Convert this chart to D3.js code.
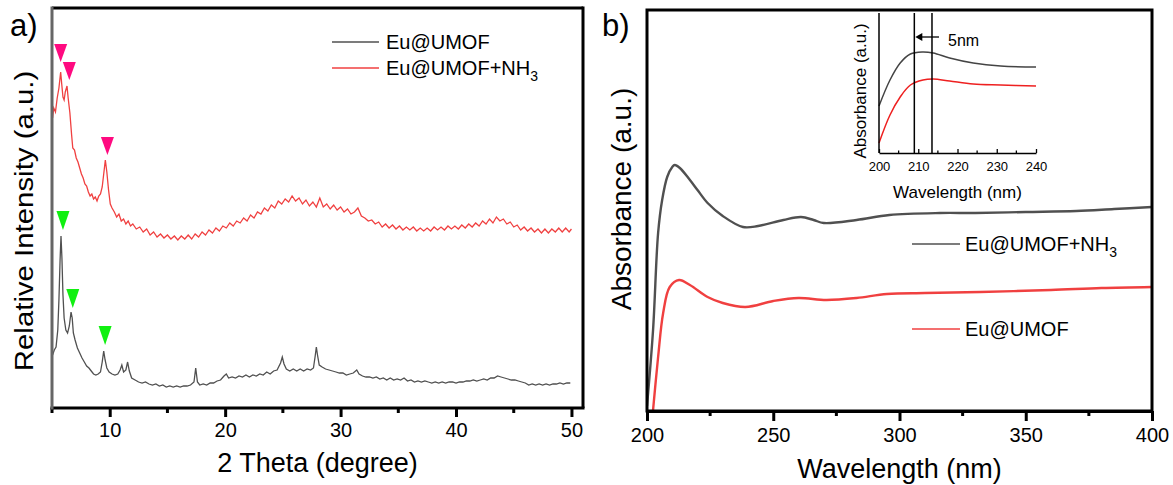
<!DOCTYPE html>
<html>
<head>
<meta charset="utf-8">
<script src="https://cdn.jsdelivr.net/npm/d3@7"></script>
<style>
  body { margin: 0; background: #fff; }
  svg { display: block; font-family: "Liberation Sans", Arial, sans-serif; }
</style>
</head>
<body>
<svg id="chart" width="1173" height="485"></svg>
<script>
// XRD patterns, [2theta, intensity a.u.]
const xrdNH3 = [
  [5.05, 291], [5.15, 301], [5.3, 297], [5.45, 311], [5.6, 321], [5.75, 337], [5.85, 324], [5.95, 312],
  [6.05, 309], [6.15, 317], [6.3, 323], [6.4, 311], [6.55, 296], [6.7, 274], [6.8, 261], [6.95, 259],
  [7.1, 251], [7.25, 247], [7.4, 241], [7.55, 235], [7.7, 231], [7.85, 225], [8.0, 223], [8.15, 217],
  [8.3, 213], [8.45, 215], [8.6, 210], [8.75, 212], [8.9, 208], [9.05, 213], [9.2, 215], [9.35, 222],
  [9.5, 237], [9.62, 249], [9.75, 237], [9.9, 219], [10.05, 205], [10.2, 201], [10.4, 197], [10.6, 192],
  [10.8, 195], [11.0, 188], [11.2, 190], [11.4, 185], [11.6, 188], [11.8, 183], [12.0, 185], [12.3, 180],
  [12.6, 182], [12.9, 177], [13.2, 180], [13.5, 174], [13.8, 177], [14.1, 172], [14.4, 175], [14.7, 171],
  [15.0, 174], [15.3, 170], [15.6, 173], [15.9, 169], [16.2, 173], [16.5, 170], [16.8, 174], [17.1, 170],
  [17.4, 175], [17.7, 172], [18.0, 177], [18.3, 174], [18.6, 179], [18.9, 176], [19.2, 181], [19.5, 178],
  [19.8, 183], [20.1, 181], [20.4, 186], [20.7, 183], [21.0, 188], [21.3, 186], [21.6, 191], [21.9, 188],
  [22.2, 194], [22.5, 191], [22.8, 197], [23.1, 195], [23.4, 201], [23.7, 198], [24.0, 204], [24.3, 201],
  [24.6, 208], [24.9, 205], [25.2, 210], [25.5, 207], [25.8, 213], [26.1, 208], [26.4, 211], [26.7, 205],
  [27.0, 209], [27.3, 203], [27.6, 207], [27.9, 202], [28.2, 211], [28.5, 202], [28.8, 205], [29.1, 200],
  [29.4, 204], [29.7, 199], [30.0, 202], [30.3, 197], [30.6, 200], [30.9, 195], [31.2, 197], [31.5, 201],
  [31.8, 193], [32.1, 191], [32.4, 188], [32.7, 189], [33.0, 185], [33.3, 187], [33.6, 182], [33.9, 185],
  [34.2, 181], [34.5, 184], [34.8, 180], [35.1, 183], [35.4, 179], [35.7, 182], [36.0, 179], [36.3, 182],
  [36.6, 178], [36.9, 181], [37.2, 178], [37.5, 181], [37.8, 178], [38.1, 182], [38.4, 179], [38.7, 182],
  [39.0, 179], [39.3, 183], [39.6, 180], [39.9, 183], [40.2, 180], [40.5, 184], [40.8, 181], [41.1, 185],
  [41.4, 182], [41.7, 186], [42.0, 183], [42.3, 188], [42.6, 185], [42.9, 190], [43.2, 186], [43.5, 192],
  [43.8, 188], [44.1, 190], [44.4, 185], [44.7, 187], [45.0, 182], [45.3, 184], [45.6, 179], [45.9, 182],
  [46.2, 178], [46.5, 181], [46.8, 177], [47.1, 180], [47.4, 176], [47.7, 180], [48.0, 176], [48.3, 180],
  [48.6, 177], [48.9, 181], [49.2, 177], [49.5, 181], [49.8, 177], [50.0, 180]
];

const xrdPlain = [
  [5.05, 54], [5.2, 59], [5.35, 62], [5.5, 79], [5.6, 109], [5.7, 149], [5.78, 173], [5.86, 151],
  [5.95, 114], [6.05, 91], [6.2, 79], [6.35, 76], [6.5, 83], [6.65, 97], [6.75, 91], [6.85, 76],
  [7.0, 69], [7.2, 61], [7.4, 56], [7.6, 51], [7.8, 47], [8.0, 43], [8.2, 41], [8.4, 38],
  [8.6, 35], [8.8, 34], [9.0, 35], [9.2, 37], [9.35, 47], [9.48, 58], [9.6, 49], [9.75, 41],
  [9.95, 37], [10.2, 35], [10.45, 34], [10.7, 35], [10.9, 39], [11.05, 44], [11.2, 37], [11.4, 39],
  [11.55, 47], [11.7, 38], [11.9, 31], [12.2, 29], [12.5, 27], [12.8, 26], [13.1, 27], [13.4, 25],
  [13.7, 24], [14.0, 25], [14.3, 23], [14.6, 24], [14.9, 22], [15.2, 23], [15.5, 22], [15.8, 23],
  [16.1, 22], [16.4, 23], [16.7, 23], [17.0, 24], [17.3, 27], [17.45, 41], [17.6, 27], [17.8, 24],
  [18.1, 25], [18.4, 24], [18.7, 26], [19.0, 26], [19.3, 28], [19.6, 29], [19.9, 33], [20.1, 35],
  [20.3, 31], [20.6, 32], [20.9, 31], [21.2, 33], [21.5, 32], [21.8, 34], [22.1, 32], [22.4, 34],
  [22.7, 33], [23.0, 35], [23.3, 34], [23.6, 37], [23.9, 35], [24.2, 38], [24.5, 39], [24.8, 46],
  [24.95, 52], [25.1, 45], [25.3, 40], [25.6, 38], [25.9, 40], [26.2, 38], [26.5, 40], [26.8, 38],
  [27.1, 40], [27.4, 39], [27.65, 41], [27.8, 53], [27.9, 62], [28.0, 54], [28.15, 44], [28.4, 42],
  [28.7, 40], [29.0, 39], [29.3, 38], [29.6, 37], [29.9, 36], [30.2, 36], [30.5, 34], [30.8, 35],
  [31.1, 36], [31.4, 39], [31.6, 35], [31.9, 33], [32.2, 32], [32.5, 32], [32.8, 31], [33.1, 32],
  [33.4, 30], [33.7, 31], [34.0, 29], [34.3, 31], [34.6, 29], [34.9, 30], [35.2, 29], [35.5, 31],
  [35.8, 28], [36.1, 29], [36.4, 27], [36.7, 28], [37.0, 27], [37.3, 28], [37.6, 27], [37.9, 26],
  [38.2, 27], [38.5, 26], [38.8, 27], [39.1, 26], [39.4, 27], [39.7, 27], [40.0, 26], [40.3, 27],
  [40.6, 27], [40.9, 28], [41.2, 28], [41.5, 29], [41.8, 28], [42.1, 29], [42.4, 30], [42.7, 29],
  [43.0, 31], [43.3, 31], [43.6, 33], [43.9, 32], [44.2, 31], [44.5, 30], [44.8, 29], [45.1, 29],
  [45.4, 28], [45.7, 27], [46.0, 26], [46.3, 24], [46.6, 25], [46.9, 24], [47.2, 25], [47.5, 24],
  [47.8, 25], [48.1, 24], [48.4, 25], [48.7, 25], [49.0, 26], [49.3, 25], [49.6, 26], [49.9, 26]
];

// peak markers, [2theta, tip intensity]
const peaksNH3 = [[5.75, 347], [6.5, 329], [9.8, 254]];
const peaksPlain = [[5.95, 179], [6.8, 101], [9.6, 64]];

// UV-vis absorbance, [wavelength nm, absorbance a.u.]
const uvNH3 = [
  [200, 5], [202.4, 81], [204.4, 178], [206, 211], [208, 234], [210, 244], [211, 246], [213, 243],
  [217, 231], [220, 221], [224, 208], [230, 195], [238, 184], [244, 185], [254, 191], [261, 194],
  [266, 191], [270, 188], [283, 191], [296, 196], [316, 198], [330, 198], [350, 199], [370, 200],
  [385, 202], [400, 204]
];
const uvPlain = [
  [202, -10], [204.4, 54], [206.4, 98], [209, 124], [212.7, 131], [217, 126], [224, 114], [230, 108],
  [239, 104], [250, 110], [260, 113], [271, 111], [283, 113], [295, 117], [310, 118], [332, 119],
  [360, 121], [380, 123], [400, 124]
];

// inset zoom 200-240 nm
const insetNH3 = [[200, 47], [202.8, 73], [205.4, 90], [208, 99], [211, 101], [213.8, 100], [218, 95], [224, 90], [231, 87], [240, 86]];
const insetPlain = [[200, 10], [202.8, 38], [205.4, 56], [208, 68], [211.2, 73], [213.8, 74], [218, 72], [224, 69], [231, 68], [240, 67]];
const insetMarks = [209, 213.5];

const xrdTicks = [10, 20, 30, 40, 50];
const xrdMinor = [5, 15, 25, 35, 45];
const uvTicks = [200, 250, 300, 350, 400];
const uvMinor = [225, 275, 325, 375];
const insetTicks = [200, 210, 220, 230, 240];
const insetMinor = [205, 215, 225, 235];

const GRAY = '#505050';
const RED = '#f04040';
const FONT = '"Liberation Sans", Arial, sans-serif';

const svg = d3.select('#chart');

// ---------- panel a ----------
const A = { left: 52, right: 583, top: 8, bottom: 408 };
const xA = d3.scaleLinear().domain([5, 51]).range([A.left, A.right]);
const yA = d3.scaleLinear().domain([0, 400]).range([409, 9]);

svg.append('clipPath').attr('id', 'clipA')
  .append('rect').attr('x', A.left).attr('y', A.top).attr('width', A.right - A.left).attr('height', A.bottom - A.top);

const lineA = d3.line().x(d => xA(d[0])).y(d => yA(d[1]));
const gA = svg.append('g');

gA.append('g').attr('clip-path', 'url(#clipA)')
  .selectAll('path')
  .data([[xrdPlain, GRAY], [xrdNH3, RED]])
  .join('path')
  .attr('d', d => lineA(d[0]))
  .attr('fill', 'none')
  .attr('stroke', d => d[1])
  .attr('stroke-width', 1.3);

// triangles pointing down, tip at the peak marker value
const tri = (d, w, h) => {
  const x = xA(d[0]), y = yA(d[1]);
  return `M${x - w / 2},${y - h}L${x + w / 2},${y - h}L${x},${y}Z`;
};
gA.selectAll('path.pk1').data(peaksNH3).join('path')
  .attr('class', 'pk1').attr('d', d => tri(d, 13, 18)).attr('fill', '#ff0a80');
gA.selectAll('path.pk2').data(peaksPlain).join('path')
  .attr('class', 'pk2').attr('d', d => tri(d, 13, 19)).attr('fill', '#11f011');

// frame
gA.append('line').attr('x1', A.left).attr('x2', A.right).attr('y1', A.top).attr('y2', A.top)
  .attr('stroke', '#000').attr('stroke-width', 3);
gA.append('line').attr('x1', A.right).attr('x2', A.right).attr('y1', A.top - 1.5).attr('y2', A.bottom)
  .attr('stroke', '#000').attr('stroke-width', 3);

const axA = gA.append('g').attr('transform', `translate(0,${A.bottom})`)
  .call(d3.axisBottom(xA).tickValues(xrdTicks).tickSize(9).tickPadding(6).tickSizeOuter(0));
axA.select('.domain').attr('stroke-width', 3).attr('d', `M${A.left - 1.5},0H${A.right + 1.5}`);
axA.selectAll('.tick line').attr('stroke-width', 3);
axA.selectAll('.tick text').attr('font-size', 20).attr('font-family', FONT);
gA.append('g').attr('transform', `translate(0,${A.bottom})`)
  .selectAll('line').data(xrdMinor).join('line')
  .attr('x1', d => xA(d)).attr('x2', d => xA(d)).attr('y1', 0).attr('y2', 5)
  .attr('stroke', '#000').attr('stroke-width', 3);

gA.append('line').attr('x1', A.left).attr('x2', A.left).attr('y1', A.top - 1.5).attr('y2', A.bottom + 1.5)
  .attr('stroke', '#666').attr('stroke-width', 3);

gA.append('text').attr('x', (A.left + A.right) / 2).attr('y', 472).attr('text-anchor', 'middle')
  .attr('font-size', 27).text('2 Theta (degree)');
gA.append('text').attr('transform', 'translate(33,221) rotate(-90) scale(1.13,1)')
  .attr('text-anchor', 'middle').attr('font-size', 26).text('Relative Intensity (a.u.)');
gA.append('text').attr('x', 10).attr('y', 36).attr('font-size', 31).text('a)');

// legend a
const legA = [['Eu@UMOF', GRAY, ''], ['Eu@UMOF+NH', RED, '3']];
const lgA = gA.selectAll('g.leg').data(legA).join('g').attr('class', 'leg')
  .attr('transform', (d, i) => `translate(332,${42 + i * 26})`);
lgA.append('line').attr('x1', 0).attr('x2', 47).attr('stroke', d => d[1]).attr('stroke-width', 1.5);
const tA = lgA.append('text').attr('x', 54).attr('y', 7).attr('font-size', 20);
tA.append('tspan').text(d => d[0]);
tA.append('tspan').attr('dy', 6).attr('font-size', 14).text(d => d[2]);

// ---------- panel b ----------
const B = { left: 647, right: 1152, top: 10, bottom: 411 };
const xB = d3.scaleLinear().domain([200, 400]).range([B.left, B.right]);
const yB = d3.scaleLinear().domain([0, 401]).range([411, 10]);

svg.append('clipPath').attr('id', 'clipB')
  .append('rect').attr('x', B.left).attr('y', B.top).attr('width', B.right - B.left).attr('height', B.bottom - B.top);

const lineB = d3.line().curve(d3.curveCatmullRom).x(d => xB(d[0])).y(d => yB(d[1]));
const gB = svg.append('g');
gB.append('g').attr('clip-path', 'url(#clipB)')
  .selectAll('path')
  .data([[uvNH3, GRAY], [uvPlain, RED]])
  .join('path')
  .attr('d', d => lineB(d[0]))
  .attr('fill', 'none')
  .attr('stroke', d => d[1])
  .attr('stroke-width', 2.4);

gB.append('rect').attr('x', B.left).attr('y', B.top).attr('width', B.right - B.left).attr('height', B.bottom - B.top)
  .attr('fill', 'none').attr('stroke', '#000').attr('stroke-width', 3);

const axB = gB.append('g').attr('transform', `translate(0,${B.bottom})`)
  .call(d3.axisBottom(xB).tickValues(uvTicks).tickSize(10).tickPadding(7).tickSizeOuter(0));
axB.select('.domain').attr('stroke-width', 3);
axB.selectAll('.tick line').attr('stroke-width', 3);
axB.selectAll('.tick text').attr('font-size', 20).attr('font-family', FONT);
gB.append('g').attr('transform', `translate(0,${B.bottom})`)
  .selectAll('line').data(uvMinor).join('line')
  .attr('x1', d => xB(d)).attr('x2', d => xB(d)).attr('y1', 0).attr('y2', 5)
  .attr('stroke', '#000').attr('stroke-width', 3);

gB.append('text').attr('x', (B.left + B.right) / 2).attr('y', 478).attr('text-anchor', 'middle')
  .attr('font-size', 27).text('Wavelength (nm)');
gB.append('text').attr('transform', 'translate(631,199) rotate(-90)')
  .attr('text-anchor', 'middle').attr('font-size', 28).text('Absorbance (a.u.)');
gB.append('text').attr('x', 602).attr('y', 36).attr('font-size', 31).text('b)');

// legend b
const legB = [['Eu@UMOF+NH', GRAY, '3', 244], ['Eu@UMOF', RED, '', 329]];
const lgB = gB.selectAll('g.leg').data(legB).join('g').attr('class', 'leg')
  .attr('transform', d => `translate(912,${d[3]})`);
lgB.append('line').attr('x1', 0).attr('x2', 48).attr('stroke', d => d[1]).attr('stroke-width', 1.5);
const tB = lgB.append('text').attr('x', 53).attr('y', 7).attr('font-size', 20);
tB.append('tspan').text(d => d[0]);
tB.append('tspan').attr('dy', 6).attr('font-size', 14).text(d => d[2]);

// ---------- inset ----------
const I = { left: 879, right: 1036, top: 13, bottom: 153 };
const xI = d3.scaleLinear().domain([200, 240]).range([I.left, I.right]);
const yI = d3.scaleLinear().domain([0, 140]).range([I.bottom, I.top]);
const lineI = d3.line().curve(d3.curveCatmullRom).x(d => xI(d[0])).y(d => yI(d[1]));
const gI = svg.append('g');

gI.selectAll('path.ins').data([[insetNH3, '#444'], [insetPlain, '#ee2020']]).join('path')
  .attr('class', 'ins')
  .attr('d', d => lineI(d[0]))
  .attr('fill', 'none').attr('stroke', d => d[1]).attr('stroke-width', 1.5);

gI.selectAll('line.mk').data(insetMarks).join('line').attr('class', 'mk')
  .attr('x1', d => xI(d)).attr('x2', d => xI(d)).attr('y1', I.top).attr('y2', I.bottom)
  .attr('stroke', '#000').attr('stroke-width', 1.5);

// arrow for the 5 nm shift
const arrowY = 37;
gI.append('line').attr('x1', xI(insetMarks[1]) + 7).attr('x2', xI(insetMarks[0]) + 6)
  .attr('y1', arrowY).attr('y2', arrowY).attr('stroke', '#000').attr('stroke-width', 1.3);
gI.append('path')
  .attr('d', `M${xI(insetMarks[0]) + 1},${arrowY}l7,-4v8z`).attr('fill', '#000');
gI.append('text').attr('x', 948).attr('y', 46).attr('font-size', 16).text('5nm');

const axIx = gI.append('g').attr('transform', `translate(0,${I.bottom})`)
  .call(d3.axisBottom(xI).tickValues(insetTicks).tickSize(-4).tickPadding(9).tickSizeOuter(0));
axIx.select('.domain').attr('stroke-width', 1.5);
axIx.selectAll('.tick line').attr('stroke-width', 1.3);
axIx.selectAll('.tick text').attr('font-size', 13).attr('font-family', FONT);
gI.append('g').attr('transform', `translate(0,${I.bottom})`)
  .selectAll('line').data(insetMinor).join('line')
  .attr('x1', d => xI(d)).attr('x2', d => xI(d)).attr('y1', 0).attr('y2', -2.5)
  .attr('stroke', '#000').attr('stroke-width', 1.3);
gI.append('line').attr('x1', I.left).attr('x2', I.left).attr('y1', I.top).attr('y2', I.bottom)
  .attr('stroke', '#000').attr('stroke-width', 1.5);

gI.append('text').attr('x', (I.left + I.right) / 2).attr('y', 198).attr('text-anchor', 'middle')
  .attr('font-size', 17).text('Wavelength (nm)');
gI.append('text').attr('transform', `translate(866,${(I.top + I.bottom) / 2 + 8}) rotate(-90)`)
  .attr('text-anchor', 'middle').attr('font-size', 17).text('Absorbance (a.u.)');
</script>
</body>
</html>
